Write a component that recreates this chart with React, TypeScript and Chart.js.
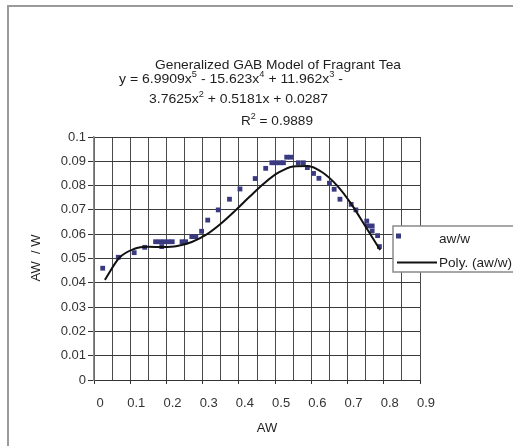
import { useEffect, useRef } from 'react';
import { Chart, registerables } from 'chart.js';

Chart.register(...registerables);

const FONT = '"Liberation Sans", Arial, Helvetica, sans-serif';

const observedAw = [
  0.024, 0.067, 0.111, 0.14, 0.17, 0.182, 0.187, 0.193, 0.205, 0.216,
  0.243, 0.253, 0.27, 0.281, 0.297, 0.314, 0.343, 0.374, 0.403, 0.445,
  0.474, 0.491, 0.502, 0.514, 0.523, 0.532, 0.543, 0.564, 0.578, 0.589,
  0.606, 0.621, 0.65, 0.663, 0.679, 0.71, 0.723, 0.753, 0.756, 0.768,
  0.768, 0.783, 0.788,
];
const observedRatio = [
  0.046, 0.0505, 0.0524, 0.0546, 0.0569, 0.0569, 0.0549, 0.0569, 0.0569, 0.0569,
  0.0569, 0.0569, 0.059, 0.059, 0.0612, 0.0658, 0.07, 0.0744, 0.0786, 0.0829,
  0.0871, 0.0894, 0.0894, 0.0894, 0.0894, 0.0917, 0.0917, 0.0894, 0.0894, 0.0874,
  0.085, 0.083, 0.081, 0.0785, 0.0744, 0.0723, 0.07, 0.0654, 0.0634, 0.0634,
  0.0613, 0.0594, 0.0549,
];

// Polynomial trend line
const trendAw = [
  0.03, 0.07, 0.11, 0.15, 0.19, 0.23, 0.27, 0.31, 0.35, 0.39,
  0.43, 0.47, 0.51, 0.55, 0.59, 0.63, 0.67, 0.71, 0.75, 0.79,
];
const trendRatio = [
  0.0412, 0.0503, 0.0539, 0.0548, 0.0547, 0.0551, 0.0568, 0.0598, 0.0643, 0.0697,
  0.0755, 0.081, 0.0854, 0.0879, 0.0881, 0.0855, 0.0802, 0.0725, 0.0631, 0.0535,
];

const xTickLabels = ['0', '0.1', '0.2', '0.3', '0.4', '0.5', '0.6', '0.7', '0.8', '0.9'];
const yTickLabels = ['0', '0.01', '0.02', '0.03', '0.04', '0.05', '0.06', '0.07', '0.08', '0.09', '0.1'];

type Seg = [string, boolean];
const chartTitle: Seg[] = [['Generalized GAB Model of Fragrant Tea', false]];
const equationLine1: Seg[] = [
  ['y = 6.9909x', false], ['5', true], [' - 15.623x', false], ['4', true],
  [' + 11.962x', false], ['3', true], [' -', false],
];
const equationLine2: Seg[] = [['3.7625x', false], ['2', true], [' + 0.5181x + 0.0287', false]];
const rSquaredLine: Seg[] = [['R', false], ['2', true], [' = 0.9889', false]];
const xAxisTitle = 'AW';
const yAxisTitle = 'AW  / W';
const legendLabels = ['aw/w', 'Poly. (aw/w)'];

const POINT_COLOR = '#3a3a80';
const TEXT_COLOR = '#1e1e1e';

function drawRich(
  ctx: CanvasRenderingContext2D,
  segs: Seg[],
  x: number,
  y: number,
  size: number,
  width?: number,
) {
  const supSize = size * 0.66;
  let natural = 0;
  segs.forEach(([t, sup]) => {
    ctx.font = `${sup ? supSize : size}px ${FONT}`;
    natural += ctx.measureText(t).width;
  });
  const k = width ? width / natural : 1;
  ctx.save();
  ctx.translate(x, y);
  ctx.scale(k, 1);
  ctx.textAlign = 'left';
  ctx.textBaseline = 'alphabetic';
  ctx.fillStyle = TEXT_COLOR;
  let cx = 0;
  segs.forEach(([t, sup]) => {
    ctx.font = `${sup ? supSize : size}px ${FONT}`;
    ctx.fillText(t, cx, sup ? -size * 0.46 : 0);
    cx += ctx.measureText(t).width;
  });
  ctx.restore();
}

const framePlugin = {
  id: 'frame',
  beforeDraw(chart: any) {
    const ctx = chart.ctx as CanvasRenderingContext2D;
    ctx.save();
    ctx.fillStyle = '#ffffff';
    ctx.fillRect(0, 0, chart.width, chart.height);
    ctx.fillStyle = '#9a9a9a';
    ctx.fillRect(7, 5, 2, chart.height);
    ctx.fillRect(7, 5, chart.width, 2);
    ctx.restore();
  },
};

const textPlugin = {
  id: 'texts',
  afterDraw(chart: any) {
    const ctx = chart.ctx as CanvasRenderingContext2D;
    // titles
    drawRich(ctx, chartTitle, 155, 69, 13.5, 246);
    drawRich(ctx, equationLine1, 119, 83, 13.5, 224);
    drawRich(ctx, equationLine2, 149, 103, 13.5, 179);
    drawRich(ctx, rSquaredLine, 241, 125, 13.5, 72);

    // axis titles
    ctx.save();
    ctx.fillStyle = TEXT_COLOR;
    ctx.font = `13px ${FONT}`;
    ctx.textAlign = 'center';
    ctx.textBaseline = 'middle';
    ctx.fillText(xAxisTitle, 267, 428);
    ctx.translate(36, 258);
    ctx.rotate(-Math.PI / 2);
    ctx.fillText(yAxisTitle, 0, 0);
    ctx.restore();

    // legend
    ctx.save();
    ctx.fillStyle = '#ffffff';
    ctx.fillRect(393, 226, 140, 46);
    ctx.strokeStyle = '#8a8a8a';
    ctx.lineWidth = 1.5;
    ctx.strokeRect(393, 226, 140, 46);
    ctx.fillStyle = POINT_COLOR;
    ctx.fillRect(396, 233.5, 5, 5);
    ctx.strokeStyle = '#111';
    ctx.lineWidth = 2;
    ctx.beginPath();
    ctx.moveTo(397, 262.5);
    ctx.lineTo(437, 262.5);
    ctx.stroke();
    ctx.restore();
    drawRich(ctx, [[legendLabels[0], false]], 439, 243, 13.5, 31);
    drawRich(ctx, [[legendLabels[1], false]], 439, 266.5, 13.5, 73);
  },
};

export default function App() {
  const ref = useRef<HTMLCanvasElement | null>(null);

  useEffect(() => {
    document.body.style.margin = '0';
    const canvas = ref.current;
    if (!canvas) return;

    const isMajorX = (v: number) => Math.round(v * 100) % 10 === 0;

    const chart = new Chart(canvas, {
      type: 'scatter',
      data: {
        datasets: [
          {
            label: legendLabels[1],
            data: trendAw.map((x, i) => ({ x, y: trendRatio[i] })),
            showLine: true,
            borderColor: '#111111',
            borderWidth: 2,
            pointRadius: 0,
            cubicInterpolationMode: 'monotone',
            order: 1,
          } as any,
          {
            label: legendLabels[0],
            data: observedAw.map((x, i) => ({ x, y: observedRatio[i] })),
            pointStyle: 'rect',
            pointRadius: 3.4,
            backgroundColor: POINT_COLOR,
            borderColor: POINT_COLOR,
            borderWidth: 0,
            order: 2,
          } as any,
        ],
      },
      options: {
        responsive: false,
        animation: false,
        devicePixelRatio: 1,
        layout: { padding: { left: 0, top: 137, right: 93, bottom: 0 } },
        plugins: {
          legend: { display: false },
          tooltip: { enabled: false },
          title: { display: false },
        },
        scales: {
          x: {
            type: 'linear',
            min: 0,
            max: 0.9,
            afterFit: (s: any) => {
              s.height = 66;
            },
            ticks: {
              stepSize: 0.05,
              autoSkip: false,
              maxRotation: 0,
              minRotation: 0,
              padding: 12,
              labelOffset: 6,
              color: '#333',
              font: { family: FONT, size: 13 },
              callback: (v: any) => (isMajorX(Number(v)) ? xTickLabels[Math.round(Number(v) * 10)] : ''),
            },
            grid: {
              color: '#4a4a4a',
              lineWidth: 1,
              tickLength: 4,
              tickColor: (c: any) => (isMajorX(c.tick ? c.tick.value : 0) ? '#333' : 'rgba(0,0,0,0)'),
            },
            border: { color: '#333', width: 1 },
          },
          y: {
            type: 'linear',
            min: 0,
            max: 0.1,
            afterFit: (s: any) => {
              s.width = 94;
            },
            ticks: {
              stepSize: 0.01,
              padding: 2,
              color: '#333',
              font: { family: FONT, size: 13 },
              callback: (v: any) => yTickLabels[Math.round(Number(v) * 100)] ?? '',
            },
            grid: {
              color: '#3a3a3a',
              lineWidth: 1,
              tickLength: 6,
              tickColor: '#333',
            },
            border: { color: '#8a8a8a', width: 1.5 },
          },
        },
      } as any,
      plugins: [framePlugin, textPlugin],
    });

    return () => chart.destroy();
  }, []);

  return (
    <div style={{ position: 'relative', width: 513, height: 446, overflow: 'hidden' }}>
      <canvas ref={ref} width={513} height={446} style={{ display: 'block' }} />
    </div>
  );
}
